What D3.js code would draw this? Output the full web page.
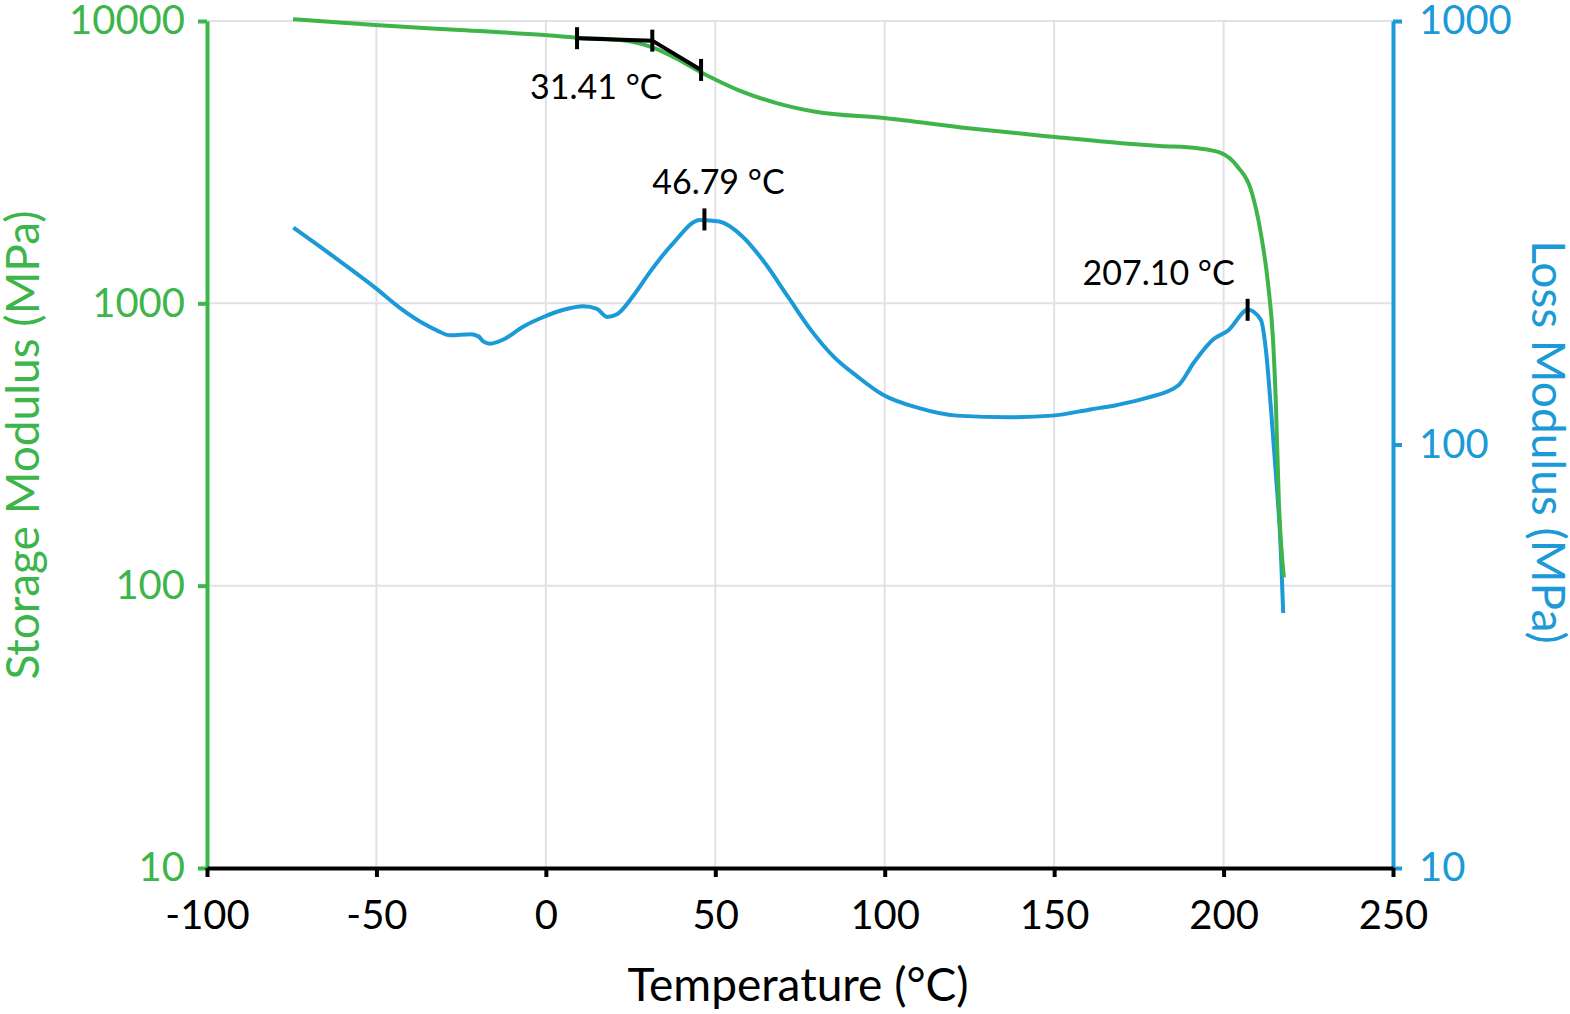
<!DOCTYPE html>
<html>
<head>
<meta charset="utf-8">
<script src="https://cdn.jsdelivr.net/npm/d3@7"></script>
<style>
  body { margin: 0; background: #fff; }
  svg text { font-family: Lato, "Noto Sans", sans-serif; }
</style>
</head>
<body>
<svg id="chart" width="1570" height="1014"></svg>
<script>
// storage modulus (left axis, MPa)
const storageTemp = [-74.6, -50.4, -25.3, -0.5, 9.3, 22, 30.8, 38.2, 45.6, 50.9, 56.8, 68.1, 79.6, 99.8,
  124.7, 149.5, 169.9, 181.2, 192.4, 199.2, 204.2, 208.1, 211, 213.1, 214.6, 215.4, 216.3, 217.8];
const storageValues = [10150, 9680, 9290, 8920, 8730, 8560, 8110, 7400, 6600, 6130, 5690, 5120, 4770, 4530,
  4170, 3890, 3690, 3610, 3540, 3410, 3040, 2520, 1770, 1180, 742, 455, 201, 107];

// loss modulus (right axis, MPa)
const lossTemp = [-74.5, -62.7, -50.2, -43.0, -36.1, -32.2, -28.2, -22.3, -19.9, -18.4, -16.4, -12.5, -6.6,
  -0.7, 5.2, 11.1, 15.1, 18.1, 21.0, 25.9, 30.8, 37.6, 45.5, 51.2, 58.0, 64.7, 71.5, 78.3, 85.0, 91.8,
  99.5, 109.9, 121.2, 137.0, 149.4, 160.7, 168.6, 177.6, 186.7, 191.2, 196.9, 201.4, 207.2, 211.0,
  212.5, 214.0, 215.4, 216.9, 217.6];
const lossValues = [325, 278, 234, 210, 193, 186, 181, 182, 180, 175, 173, 177, 190,
  200, 208, 212, 209, 200, 203, 225, 256, 299, 339, 336, 310, 268, 223, 186, 161, 145,
  131, 122, 117, 116, 117, 121, 124, 129, 138, 156, 177, 186, 208, 197,
  167, 121, 86, 56, 40];

// onset analysis on storage modulus
const onsetTemps = [9.2, 31.41, 45.8];
const onsetValues = [8690, 8520, 6710];
const onsetLabel = "31.41 °C";

// loss modulus peaks
const peakTemps = [46.79, 207.10];
const peakValues = [340, 208];
const peakLabels = ["46.79 °C", "207.10 °C"];

const xTicks = [-100, -50, 0, 50, 100, 150, 200, 250];
const leftTicks = [10, 100, 1000, 10000];
const rightTicks = [10, 100, 1000];

const green = "#3db54a", blue = "#1b9ad7", gridColor = "#e1e1e8";

const svg = d3.select("svg#chart");
const x = d3.scaleLinear().domain([-100, 250]).range([207, 1393]);
const yL = d3.scaleLog().domain([10, 10000]).range([868, 21]);
const yR = d3.scaleLog().domain([10, 1000]).range([868, 21]);

// grid
const gridG = svg.append("g");
gridG.selectAll("line.v")
  .data(xTicks.slice(1, -1))
  .join("line")
  .attr("x1", d => x(d)).attr("x2", d => x(d))
  .attr("y1", yL(10000)).attr("y2", yL(10))
  .attr("stroke", gridColor).attr("stroke-width", 2);
gridG.selectAll("line.h")
  .data(leftTicks.slice(1))
  .join("line")
  .attr("x1", x(-100)).attr("x2", x(250))
  .attr("y1", d => yL(d)).attr("y2", d => yL(d))
  .attr("stroke", gridColor).attr("stroke-width", 2);

// curves
const storageLine = d3.line()
  .x((d, i) => x(storageTemp[i]))
  .y(d => yL(d))
  .curve(d3.curveMonotoneX);
const lossLine = d3.line()
  .x((d, i) => x(lossTemp[i]))
  .y(d => yR(d))
  .curve(d3.curveMonotoneX);

svg.append("path").datum(lossValues)
  .attr("d", lossLine)
  .attr("fill", "none").attr("stroke", blue).attr("stroke-width", 4);
svg.append("path").datum(storageValues)
  .attr("d", storageLine)
  .attr("fill", "none").attr("stroke", green).attr("stroke-width", 4);

// onset tangents
const onsetLine = d3.line().x((d, i) => x(onsetTemps[i])).y(d => yL(d));
svg.append("path").datum(onsetValues)
  .attr("d", onsetLine)
  .attr("fill", "none").attr("stroke", "#000").attr("stroke-width", 4);
svg.selectAll("line.onset")
  .data(onsetValues)
  .join("line")
  .attr("x1", (d, i) => x(onsetTemps[i])).attr("x2", (d, i) => x(onsetTemps[i]))
  .attr("y1", d => yL(d) - 11).attr("y2", d => yL(d) + 11)
  .attr("stroke", "#000").attr("stroke-width", 4);
svg.append("text")
  .attr("x", x(onsetTemps[1]) - 56).attr("y", yL(onsetValues[1]) + 58)
  .attr("text-anchor", "middle").attr("font-size", 34).attr("fill", "#000")
  .text(onsetLabel);

// peak markers
const peakDx = [14, -89];
svg.selectAll("line.peak")
  .data(peakValues)
  .join("line")
  .attr("x1", (d, i) => x(peakTemps[i])).attr("x2", (d, i) => x(peakTemps[i]))
  .attr("y1", d => yR(d) - 11).attr("y2", d => yR(d) + 11)
  .attr("stroke", "#000").attr("stroke-width", 4);
svg.selectAll("text.peak")
  .data(peakValues)
  .join("text")
  .attr("x", (d, i) => x(peakTemps[i]) + peakDx[i])
  .attr("y", d => yR(d) - 25)
  .attr("text-anchor", "middle").attr("font-size", 34).attr("fill", "#000")
  .text((d, i) => peakLabels[i]);

// axes
function styleAxis(g, color, size) {
  g.attr("font-family", null);
  g.select(".domain").attr("stroke", color).attr("stroke-width", 4);
  g.selectAll(".tick line").attr("stroke", color).attr("stroke-width", 4);
  g.selectAll(".tick text").attr("fill", color).attr("font-size", size);
}

svg.append("g")
  .attr("transform", `translate(${x(-100)},0)`)
  .call(d3.axisLeft(yL).tickValues(leftTicks).tickSize(9).tickSizeOuter(0).tickPadding(13)
    .tickFormat(d => String(d)))
  .call(g => styleAxis(g, green, 40));

svg.append("g")
  .attr("transform", `translate(${x(250)},0)`)
  .call(d3.axisRight(yR).tickValues(rightTicks).tickSize(9).tickSizeOuter(0).tickPadding(17)
    .tickFormat(d => String(d)))
  .call(g => styleAxis(g, blue, 40));

svg.append("g")
  .attr("transform", `translate(0,${yL(10)})`)
  .call(d3.axisBottom(x).tickValues(xTicks).tickSize(9).tickSizeOuter(0).tickPadding(24)
    .tickFormat(d => String(d)))
  .call(g => styleAxis(g, "#000", 40));

// axis titles
svg.append("text")
  .attr("x", 798).attr("y", 1001)
  .attr("text-anchor", "middle").attr("font-size", 46).attr("fill", "#000")
  .text("Temperature (°C)");
svg.append("text")
  .attr("transform", "translate(39,445) rotate(-90)")
  .attr("text-anchor", "middle").attr("font-size", 46).attr("fill", green)
  .text("Storage Modulus (MPa)");
svg.append("text")
  .attr("transform", "translate(1532,442) rotate(90)")
  .attr("text-anchor", "middle").attr("font-size", 46).attr("fill", blue)
  .text("Loss Modulus (MPa)");
</script>
</body>
</html>
